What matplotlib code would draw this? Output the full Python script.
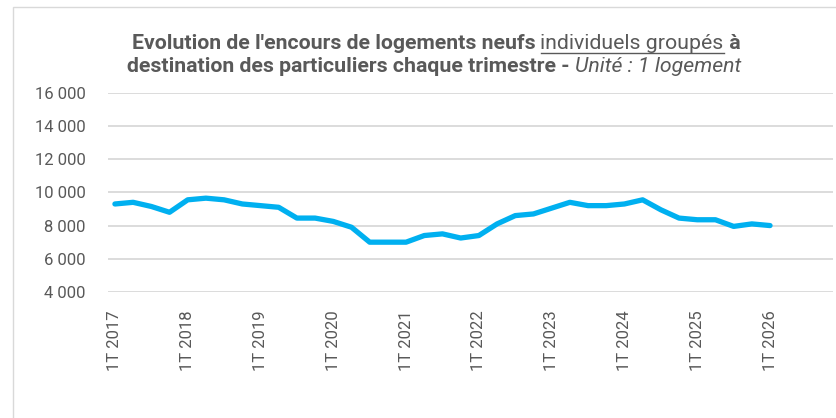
import matplotlib
matplotlib.use("Agg")
import matplotlib.pyplot as plt
from matplotlib.patches import Rectangle
from matplotlib.lines import Line2D

plt.rcParams['font.family'] = ['Roboto', 'DejaVu Sans']

quarters = [f"{q}T {y}" for y in range(2017, 2026) for q in range(1, 5)] + ["1T 2026"]
values = [9300, 9400, 9150, 8800, 9550, 9650, 9550, 9300, 9200, 9100,
          8450, 8450, 8250, 7900, 7000, 7000, 7000, 7400, 7500, 7250,
          7400, 8100, 8600, 8700, 9050, 9400, 9200, 9200, 9300, 9550,
          8950, 8450, 8350, 8350, 7950, 8100, 8000]
yticks = [4000, 6000, 8000, 10000, 12000, 14000, 16000]
ytick_labels = ["4 000", "6 000", "8 000", "10 000", "12 000", "14 000", "16 000"]

W, H = 836, 418
fig = plt.figure(figsize=(W / 100, H / 100), dpi=100)
fig.patch.set_facecolor("white")

# outer chart border
fig.add_artist(Rectangle((13 / W, -0.1), 1.2, 1 - 7 / H + 0.1, transform=fig.transFigure,
                         fill=False, edgecolor="#D9D9D9", linewidth=1.0))

ax = fig.add_axes([108 / W, 1 - 292 / H, (833 - 108) / W, (292 - 92.7) / H])
x = list(range(len(values)))
ax.plot(x, values, color="#00B0F0", linewidth=3.8, solid_joinstyle="round", solid_capstyle="round", zorder=3)
ax.set_ylim(4000, 16000)
ax.set_xlim(-0.38, 39.46)
ax.set_yticks(yticks)
ax.set_yticklabels(ytick_labels)
tick_idx = list(range(0, len(quarters), 4))
ax.set_xticks(tick_idx)
ax.set_xticklabels([quarters[i] for i in tick_idx], rotation=90)
ax.tick_params(axis="both", length=0, colors="#595959", labelsize=12)
ax.tick_params(axis="x", pad=13)
ax.tick_params(axis="y", pad=16)
for lab in ax.get_yticklabels() + ax.get_xticklabels():
    lab.set_color("#595959")
ax.grid(axis="y", color="#D9D9D9", linewidth=1.3)
ax.set_axisbelow(True)
for s in ax.spines.values():
    s.set_visible(False)

# title built from pieces
tc = "#595959"
fs = 15.3
renderer = fig.canvas.get_renderer()

def place_line(pieces, yc, target_center):
    texts = []
    for txt, kw in pieces:
        t = fig.text(0, 0, txt, fontsize=fs, color=tc, va="baseline", ha="left", **kw)
        texts.append(t)
    widths = [t.get_window_extent(renderer).width for t in texts]
    total = sum(widths)
    xpos = target_center - total / 2
    out = []
    for t, w in zip(texts, widths):
        t.set_position((xpos / W, yc))
        out.append((t, xpos, w))
        xpos += w
    return out

line1 = place_line([("Evolution de l'encours de logements neufs ", dict(fontweight="bold")),
                    ("individuels groupés", dict(fontweight="normal")),
                    (" à", dict(fontweight="bold"))], 1 - 49 / H, 436)
line2 = place_line([("destination des particuliers chaque trimestre - ", dict(fontweight="bold")),
                    ("Unité : 1 logement", dict(fontstyle="italic", fontweight="normal"))], 1 - 72 / H, 434)
# underline for the regular piece
t, xp, w = line1[1]
uy = 1 - 52.5 / H
fig.add_artist(Line2D([xp / W, (xp + w) / W], [uy, uy], transform=fig.transFigure,
                      color=tc, linewidth=1.0))

fig.savefig("out.png", dpi=100, facecolor="white")
